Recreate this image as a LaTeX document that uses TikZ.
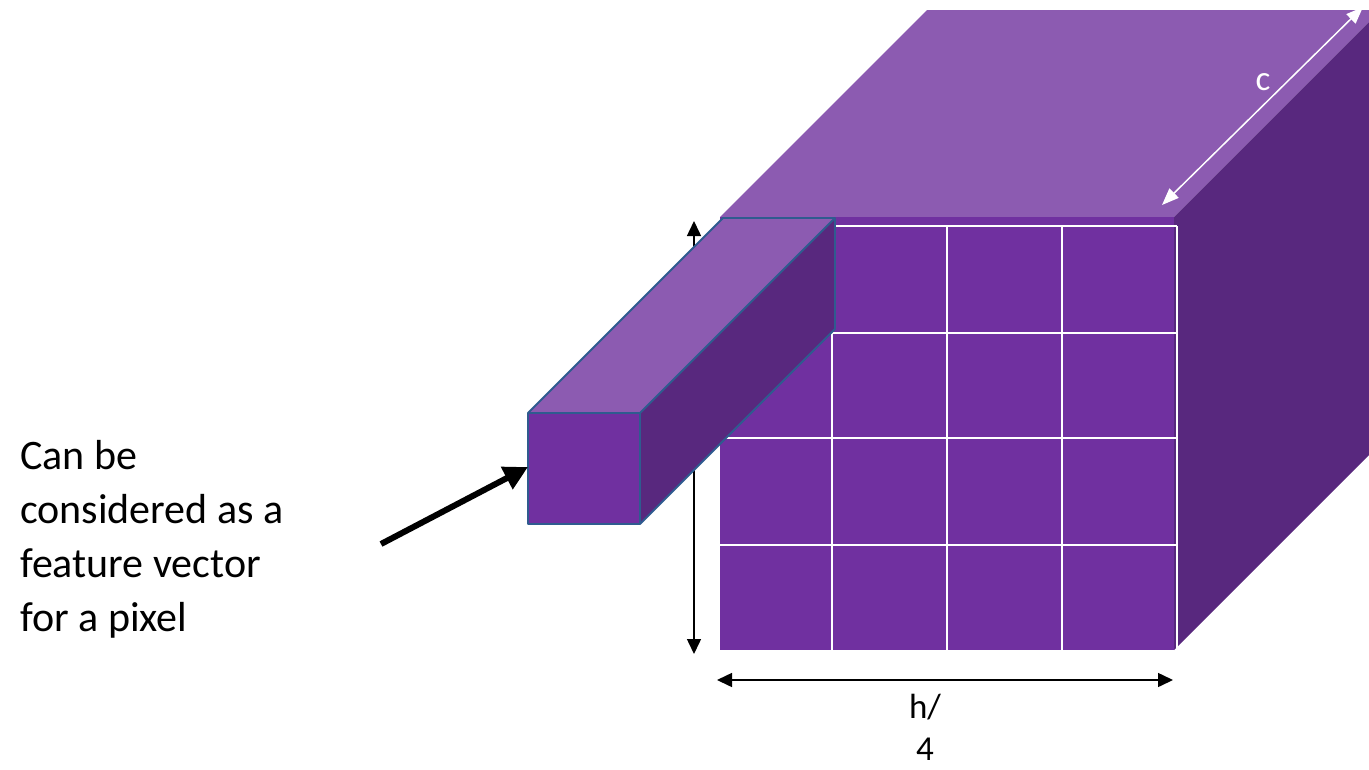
\documentclass[tikz,border=0pt]{standalone}
\usepackage{fontspec}
\setmainfont{Carlito}
\usepackage{xcolor}
\usepackage{tikz}
\usetikzlibrary{arrows.meta}

\definecolor{topface}{HTML}{8C5BB1}
\definecolor{frontface}{HTML}{7030A0}
\definecolor{sideface}{HTML}{58287E}
\definecolor{baredge}{HTML}{2F5B8F}

\begin{document}
\begin{tikzpicture}[
    x=1pt, y=-1pt,
    gridline/.style={white, line width=2pt},
    barface/.style={draw=baredge, line width=1.8pt, line join=round},
    dimarrow/.style={{Triangle[width=14pt,length=15pt]}-{Triangle[width=14pt,length=15pt]}, line width=1.5pt},
    whitearrow/.style={{Triangle[width=13pt,length=17pt]}-{Triangle[width=13pt,length=17pt]}, white, line width=1.5pt},
    pointer/.style={-{Triangle[width=24pt,length=24pt]}, line width=6pt},
    label/.style={inner sep=0pt, font=\fontsize{35}{42}\selectfont}
]
    \useasboundingbox (0,0) rectangle (1369,769);
    \clip (0,0) rectangle (1369,769);

    % Cube corners
    \coordinate (fa) at (720,217);
    \coordinate (fb) at (1174,217);
    \coordinate (fc) at (1174,650);
    \coordinate (fd) at (720,650);
    \coordinate (ba) at (927,10);
    \coordinate (bb) at (1381,10);
    \coordinate (bc) at (1381,443);

    % Cube faces
    \fill[topface] (fa) -- (fb) -- (bb) -- (ba) -- cycle;
    \fill[sideface] (fb) -- (bb) -- (bc) -- (fc) -- cycle;
    \fill[frontface] (fa) rectangle (fc);

    % Grid
    \foreach \gx in {832,947,1062,1177}
        \draw[gridline] (\gx,226) -- (\gx,650);
    \foreach \gy in {226,333,438,545}
        \draw[gridline] (720,\gy) -- (1177,\gy);

    % Dimension arrows
    \coordinate (htop) at (694,221);
    \coordinate (hbot) at (694,654);
    \coordinate (wleft) at (717,680);
    \coordinate (wright) at (1173,680);
    \coordinate (cfront) at (1162,205);
    \coordinate (cback) at (1363,7);
    \draw[dimarrow] (htop) -- (hbot);
    \draw[dimarrow] (wleft) -- (wright);
    \draw[whitearrow] (cfront) -- (cback);

    % Feature vector bar
    \coordinate (va) at (528,413);
    \coordinate (vb) at (640,413);
    \coordinate (vc) at (640,524);
    \coordinate (vd) at (528,524);
    \coordinate (wa) at (723,218);
    \coordinate (wb) at (835,218);
    \coordinate (wc) at (835,329);
    \fill[topface] (va) -- (vb) -- (wb) -- (wa) -- cycle;
    \fill[sideface] (vb) -- (wb) -- (wc) -- (vc) -- cycle;
    \fill[frontface] (va) rectangle (vc);
    \draw[barface] (va) -- (wa) -- (wb) -- (wc) -- (vc) -- (vd) -- cycle;
    \draw[barface] (va) -- (vb) -- (vc);
    \draw[barface] (vb) -- (wb);

    % Labels
    \node[label, white, anchor=base] (clabel) at (1263,90) {c};
    \node[label, anchor=base, align=center] (hlabel) at (925,760) {h/\\4};
    \node[inner sep=0pt, anchor=base west, align=left,
          font=\fontsize{42}{54}\selectfont] (note) at (20,631)
          {Can be\\considered as a\\feature vector\\for a pixel};

    % Pointer
    \coordinate (tail) at (381,544);
    \draw[pointer] (tail) -- (vd |- 0,467);
\end{tikzpicture}
\end{document}
